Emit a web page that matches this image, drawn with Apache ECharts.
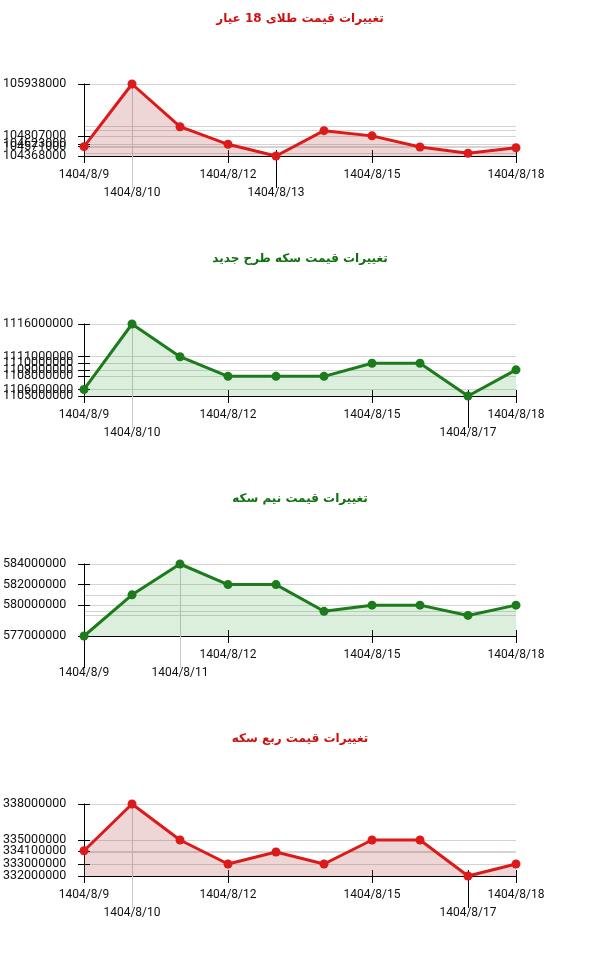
<!DOCTYPE html>
<html><head><meta charset="utf-8">
<script src="https://cdn.jsdelivr.net/npm/echarts@6/dist/echarts.min.js"></script>
<style>html,body{margin:0;padding:0;background:#fff}#c{width:600px;height:960px}</style>
</head><body><div id="c"></div>
<script>
// ---- data ----
const dates = ['1404/8/9','1404/8/10','1404/8/11','1404/8/12','1404/8/13','1404/8/14','1404/8/15','1404/8/16','1404/8/17','1404/8/18'];

const titleGold18 = 'تغییرات قیمت طلای 18 عیار';
const titleNewCoin = 'تغییرات قیمت سکه طرح جدید';
const titleHalfCoin = 'تغییرات قیمت نیم سکه';
const titleQuarterCoin = 'تغییرات قیمت ربع سکه';

const gold18 = [104571000, 105938000, 105007000, 104623000, 104368000, 104920000, 104807000, 104564000, 104427000, 104549000];
const newCoin = [1106000000, 1116000000, 1111000000, 1108000000, 1108000000, 1108000000, 1110000000, 1110000000, 1105000000, 1109000000];
const halfCoin = [577000000, 581000000, 584000000, 582000000, 582000000, 579400000, 580000000, 580000000, 579000000, 580000000];
const quarterCoin = [334100000, 338000000, 335000000, 333000000, 334000000, 333000000, 335000000, 335000000, 332000000, 333000000];

const gold18Ticks = [105938000, 104807000, 104623000, 104571000, 104368000];
const newCoinTicks = [1116000000, 1111000000, 1110000000, 1109000000, 1108000000, 1106000000, 1105000000];
const halfCoinTicks = [584000000, 582000000, 580000000, 577000000];
const quarterCoinTicks = [338000000, 335000000, 334100000, 333000000, 332000000];

const gold18XRow1 = ['1404/8/9','1404/8/12','1404/8/15','1404/8/18'];
const gold18XGray = ['1404/8/10'];
const gold18XDrop = ['1404/8/13'];
const newCoinXRow1 = ['1404/8/9','1404/8/12','1404/8/15','1404/8/18'];
const newCoinXGray = ['1404/8/10'];
const newCoinXDrop = ['1404/8/17'];
const halfCoinXRow1 = ['1404/8/12','1404/8/15','1404/8/18'];
const halfCoinXGray = ['1404/8/11'];
const halfCoinXDrop = ['1404/8/9'];
const quarterCoinXRow1 = ['1404/8/9','1404/8/12','1404/8/15','1404/8/18'];
const quarterCoinXGray = ['1404/8/10'];
const quarterCoinXDrop = ['1404/8/17'];

// ---- styles ----
const RED = {line:'#dc1a1a', title:'#cc1111', fill:'rgba(180,60,60,0.30)'};
const GREEN = {line:'#1c7c1c', title:'#107010', fill:'rgba(40,150,40,0.23)'};

const panels = [
  {title:titleGold18, style:RED, values:gold18, ticks:gold18Ticks, row1:gold18XRow1, gray:gold18XGray, drop:gold18XDrop},
  {title:titleNewCoin, style:GREEN, values:newCoin, ticks:newCoinTicks, row1:newCoinXRow1, gray:newCoinXGray, drop:newCoinXDrop},
  {title:titleHalfCoin, style:GREEN, values:halfCoin, ticks:halfCoinTicks, row1:halfCoinXRow1, gray:halfCoinXGray, drop:halfCoinXDrop},
  {title:titleQuarterCoin, style:RED, values:quarterCoin, ticks:quarterCoinTicks, row1:quarterCoinXRow1, gray:quarterCoinXGray, drop:quarterCoinXDrop}
];

const PH = 240;
const FONT = 'Roboto';
const option = {animation:false, backgroundColor:'#fff', title:[], grid:[], xAxis:[], yAxis:[], series:[]};
const pick = arr => (idx, val) => arr.indexOf(val !== undefined ? val : dates[idx]) >= 0;
// ECharts hides the label next to a forced min/max label when they overlap;
// doubling the end values makes it hide only the duplicate, so every tick label stays.
const padEnds = arr => {
  const s = arr.slice().sort((a, b) => a - b);
  return [s[0]].concat(s, [s[s.length - 1]]);
};

panels.forEach((p, i) => {
  const top = i * PH;
  option.title.push({
    text:p.title, left:'center', top:top + 8,
    textStyle:{fontFamily:'DejaVu Sans', fontSize:12, fontWeight:'bold', color:p.style.title}
  });
  option.grid.push({left:84, right:84, top:top + 84, height:72, containLabel:false, outerBoundsMode:'none'});
  const mn = Math.min(...p.values), mx = Math.max(...p.values);
  const distinct = Array.from(new Set(p.values));
  const base = {type:'category', gridIndex:i, data:dates, boundaryGap:false, position:'bottom'};
  const lbl = {fontFamily:FONT, fontSize:12, color:'#111'};
  // main x axis
  option.xAxis.push(Object.assign({}, base, {
    axisLine:{show:true, onZero:false, lineStyle:{color:'#000', width:1}},
    axisTick:{show:true, interval:pick(p.row1), length:7, lineStyle:{color:'#000'}},
    axisLabel:Object.assign({interval:pick(p.row1), margin:13}, lbl),
    splitLine:{show:false}
  }));
  // inner half of crossing ticks
  option.xAxis.push(Object.assign({}, base, {
    axisLine:{show:false, onZero:false},
    axisTick:{show:true, inside:true, interval:pick(p.row1.concat(p.drop)), length:6, lineStyle:{color:'#000'}},
    axisLabel:{show:false}, splitLine:{show:false}
  }));
  // dropped labels with long black tick
  option.xAxis.push(Object.assign({}, base, {
    axisLine:{show:false, onZero:false},
    axisTick:{show:true, interval:pick(p.drop), length:32, lineStyle:{color:'#000'}},
    axisLabel:Object.assign({interval:pick(p.drop), margin:31}, lbl),
    splitLine:{show:false}
  }));
  // dropped labels with gray grid line
  option.xAxis.push(Object.assign({}, base, {
    axisLine:{show:false, onZero:false},
    axisTick:{show:true, interval:pick(p.gray), length:32, lineStyle:{color:'#c8c8c8'}},
    axisLabel:Object.assign({interval:pick(p.gray), margin:31}, lbl),
    splitLine:{show:true, interval:pick(p.gray), lineStyle:{color:'#c8c8c8', width:1}}
  }));
  const ybase = {type:'value', gridIndex:i, min:mn, max:mx, position:'left', scale:true};
  const tv = padEnds(p.ticks);
  option.yAxis.push(Object.assign({}, ybase, {
    axisLine:{show:true, lineStyle:{color:'#000'}},
    axisTick:{show:true, customValues:tv, length:6, lineStyle:{color:'#000'}},
    axisLabel:{customValues:tv, margin:81, align:'left', fontFamily:FONT, fontSize:12.5, color:'#111',
               showMinLabel:true, showMaxLabel:true, hideOverlap:false,
               padding:[0,0,6,0], formatter:v => String(v)},
    splitLine:{show:false}
  }));
  option.yAxis.push(Object.assign({}, ybase, {
    axisLine:{show:false},
    axisTick:{show:true, inside:true, customValues:p.ticks, length:6, lineStyle:{color:'#000'}},
    axisLabel:{show:false}, splitLine:{show:false}
  }));
  option.yAxis.push(Object.assign({}, ybase, {
    axisLine:{show:false},
    axisTick:{show:false, customValues:distinct},
    axisLabel:{show:false},
    splitLine:{show:true, lineStyle:{color:'#d4d4d4', width:1}}
  }));
  option.series.push({
    type:'line', xAxisIndex:i * 4, yAxisIndex:i * 3, data:p.values,
    symbol:'circle', symbolSize:9, showSymbol:true,
    lineStyle:{width:3, color:p.style.line},
    itemStyle:{color:p.style.line},
    areaStyle:{color:p.style.fill, origin:'start'},
    z:5
  });
});

const chart = echarts.init(document.getElementById('c'), null, {renderer:'canvas'});
chart.setOption(option);
</script>
</body></html>
